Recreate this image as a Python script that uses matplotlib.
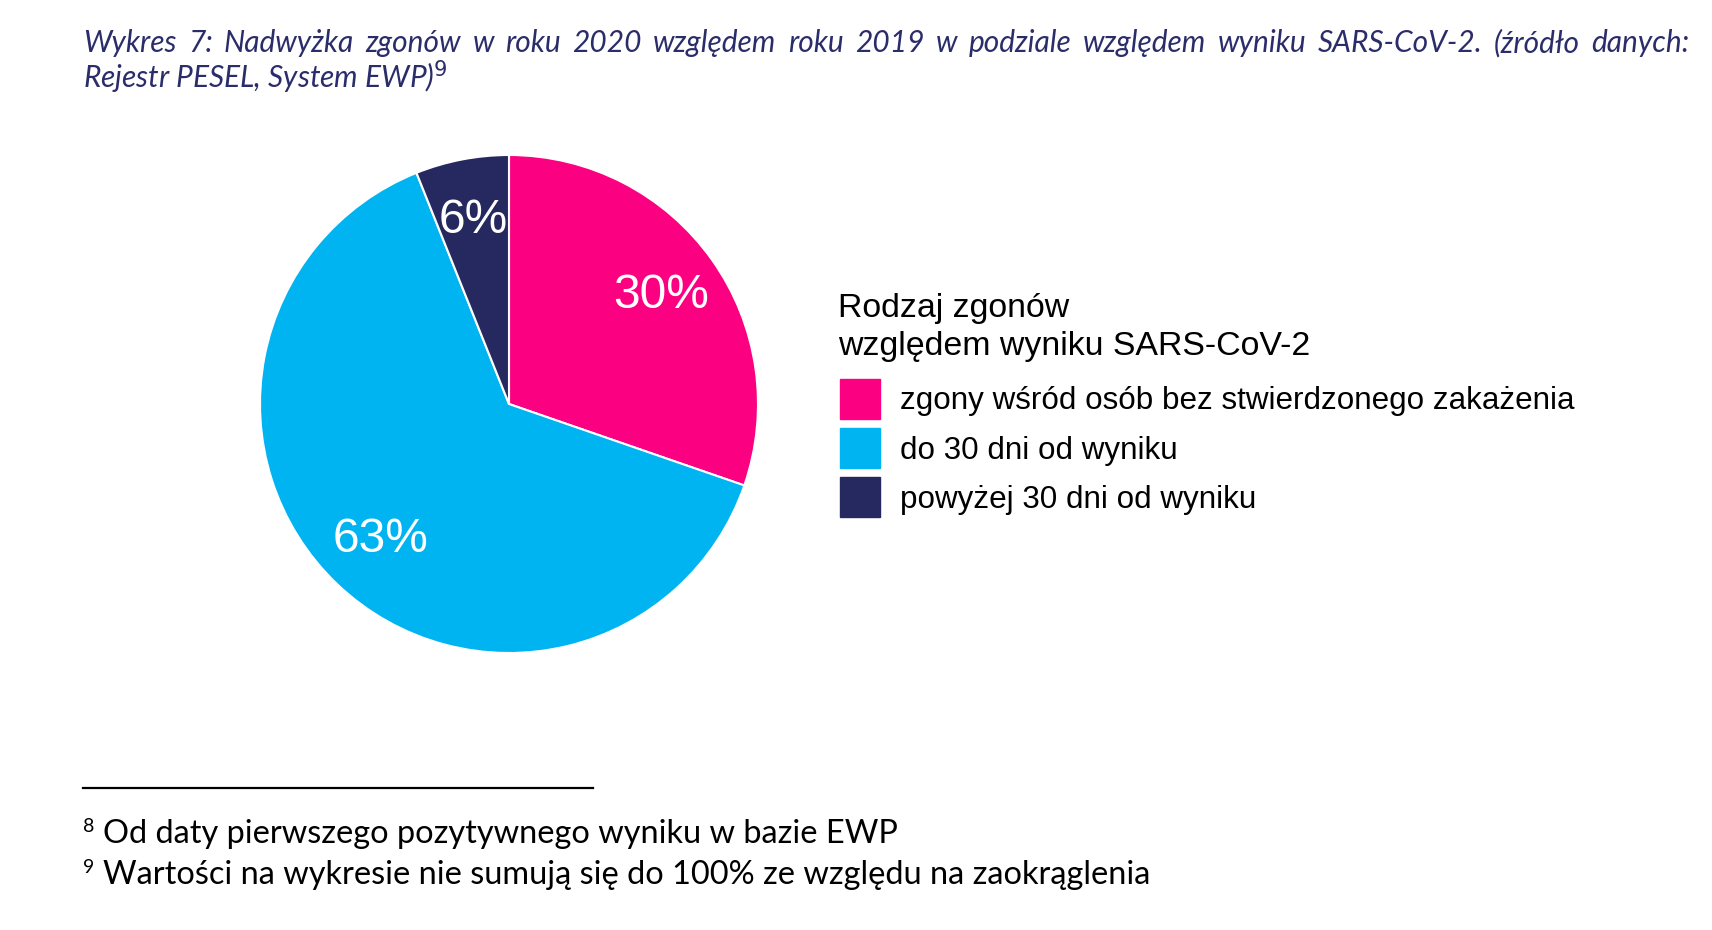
import numpy as np
import matplotlib.pyplot as plt
from matplotlib.lines import Line2D

# data
# -------------------------------------------------------------------------------------
categories = [
    "zgony wśród osób bez stwierdzonego zakażenia",
    "do 30 dni od wyniku",
    "powyżej 30 dni od wyniku",
]
shares = [30, 63, 6]            # % (nie sumują się do 100 przez zaokrąglenia)
colors = ["#FB0181", "#00B4F1", "#262960"]

title_lines = [
    "Wykres 7: Nadwyżka zgonów w roku 2020 względem roku 2019 w podziale względem wyniku SARS-CoV-2. (źródło danych:",
    "Rejestr PESEL, System EWP)$^{9}$",
]
legend_title = ["Rodzaj zgonów", "względem wyniku SARS-CoV-2"]
footnotes = [
    ("8", "Od daty pierwszego pozytywnego wyniku w bazie EWP"),
    ("9", "Wartości na wykresie nie sumują się do 100% ze względu na zaokrąglenia"),
]

W, H = 1712, 930
fig = plt.figure(figsize=(W / 100, H / 100), dpi=100)
renderer = fig.canvas.get_renderer()

# pie
# -------------------------------------------------------------------------------------
cx, cy, r = 509, 404, 249
ax = fig.add_axes([(cx - r) / W, 1 - (cy + r) / H, 2 * r / W, 2 * r / H])
wedges, texts = ax.pie(
    shares,
    colors=colors,
    startangle=90,
    counterclock=False,
    labels=[f"{v}%" for v in shares],
    labeldistance=0.75,
    wedgeprops=dict(edgecolor="white", linewidth=1.5),
    textprops=dict(color="white", fontsize=34.5, family="Liberation Sans",
                   ha="center", va="center"),
)
ax.set_xlim(-1, 1)
ax.set_ylim(-1, 1)
ax.set_aspect("equal")

# legend (title drawn separately so its spacing can be matched)
# -------------------------------------------------------------------------------------
for i, line in enumerate(legend_title):
    fig.text(838 / W, 1 - (317 + 38 * i) / H, line, fontsize=24.4,
             family="Liberation Sans", va="baseline")

handles = [Line2D([], [], marker="s", linestyle="none", markersize=29.5,
                  markerfacecolor=c, markeredgecolor=c) for c in colors]
leg = fig.legend(
    handles, categories,
    loc="upper left",
    bbox_to_anchor=(838 / W, 1 - 386.5 / H),
    frameon=False,
    prop=dict(family="Liberation Sans", size=22.6),
    handlelength=1.4,
    handletextpad=0.57,
    labelspacing=0.62,
    borderaxespad=0,
    borderpad=0,
)

# title (first line justified to full width)
# -------------------------------------------------------------------------------------
tcol = "#2B2D6B"
tkw = dict(fontsize=21.5, style="italic", family="Lato", color=tcol, va="baseline")
x0, x1 = 83, 1689
words = title_lines[0].split(" ")
artists = [fig.text(0, 1 - 52 / H, w, **tkw) for w in words]
widths = [a.get_window_extent(renderer).width for a in artists]
gap = (x1 - x0 - sum(widths)) / (len(words) - 1)
x = x0
for a, w in zip(artists, widths):
    a.set_x(x / W)
    x += w + gap
fig.text(x0 / W, 1 - 88 / H, title_lines[1], **tkw)

# footnotes
# -------------------------------------------------------------------------------------
fig.add_artist(Line2D([83 / W, 593 / W], [1 - 788 / H, 1 - 788 / H],
                      color="black", linewidth=1.6))
for i, (num, txt) in enumerate(footnotes):
    y = 1 - (843 + 41 * i) / H
    fig.text(83 / W, y + 11 / H, num, fontsize=14, family="Lato", va="baseline")
    fig.text(103 / W, y, txt, fontsize=23.4, family="Lato", va="baseline")

fig.savefig("out.png", dpi=100, facecolor="white")
